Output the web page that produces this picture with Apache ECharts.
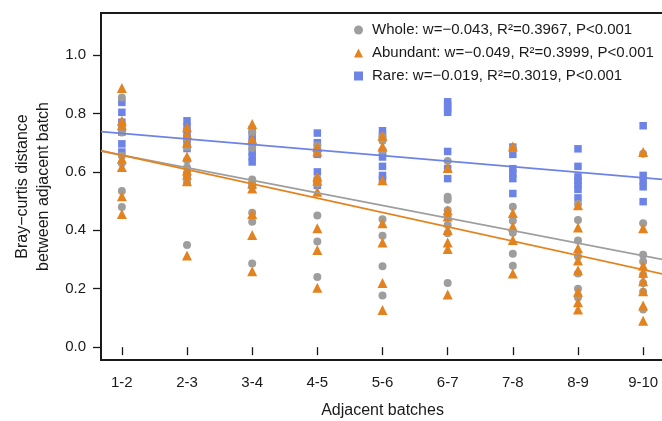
<!DOCTYPE html>
<html>
<head>
<meta charset="utf-8">
<script src="https://cdn.jsdelivr.net/npm/echarts@6/dist/echarts.min.js"></script>
<style>
  html, body { margin: 0; padding: 0; background: #fff; }
  #chart { width: 662px; height: 421px; }
</style>
</head>
<body>
<div id="chart"></div>
<script>
// Adjacent batch pairs along the x axis
const categories = ['1-2', '2-3', '3-4', '4-5', '5-6', '6-7', '7-8', '8-9', '9-10'];

// Bray-Curtis distances per batch pair, one inner list per category
const wholeValues = [
  [0.855, 0.76, 0.735, 0.655, 0.63, 0.535, 0.48],
  [0.715, 0.685, 0.64, 0.615, 0.595, 0.565, 0.35],
  [0.736, 0.682, 0.574, 0.56, 0.46, 0.429, 0.286],
  [0.69, 0.675, 0.574, 0.56, 0.451, 0.362, 0.24],
  [0.72, 0.707, 0.673, 0.438, 0.381, 0.277, 0.177],
  [0.637, 0.515, 0.505, 0.469, 0.447, 0.418, 0.39, 0.22],
  [0.681, 0.481, 0.433, 0.392, 0.32, 0.279],
  [0.49, 0.435, 0.365, 0.31, 0.252, 0.2, 0.17],
  [0.662, 0.424, 0.316, 0.293, 0.248, 0.22, 0.19, 0.129]
];
const abundantValues = [
  [0.887, 0.775, 0.76, 0.645, 0.617, 0.517, 0.456],
  [0.753, 0.73, 0.70, 0.653, 0.605, 0.59, 0.568, 0.314],
  [0.764, 0.713, 0.56, 0.543, 0.456, 0.384, 0.26],
  [0.685, 0.67, 0.583, 0.57, 0.532, 0.407, 0.333, 0.203],
  [0.724, 0.687, 0.571, 0.424, 0.358, 0.22, 0.127],
  [0.613, 0.469, 0.447, 0.401, 0.358, 0.336, 0.18],
  [0.687, 0.459, 0.413, 0.367, 0.252],
  [0.486, 0.41, 0.339, 0.297, 0.263, 0.19, 0.154, 0.129],
  [0.668, 0.407, 0.279, 0.255, 0.226, 0.191, 0.143, 0.09]
];
const rareValues = [
  [0.838, 0.804, 0.77, 0.75, 0.736, 0.696, 0.668],
  [0.775, 0.755, 0.735, 0.715, 0.695, 0.68, 0.59],
  [0.745, 0.72, 0.70, 0.67, 0.651, 0.634, 0.554],
  [0.733, 0.70, 0.673, 0.66, 0.60, 0.571, 0.554],
  [0.741, 0.72, 0.668, 0.651, 0.619, 0.588, 0.575],
  [0.84, 0.828, 0.816, 0.804, 0.67, 0.611, 0.577],
  [0.685, 0.66, 0.611, 0.594, 0.577, 0.526],
  [0.679, 0.619, 0.583, 0.57, 0.555, 0.54, 0.511],
  [0.758, 0.588, 0.57, 0.549, 0.498]
];

// Linear fits: slope w per batch step, intercept at x = 0
const fitSlopes = [-0.043, -0.049, -0.019];
const fitIntercepts = [0.700, 0.706, 0.751];

const legendLabels = [
  'Whole: w=\u22120.043, R\u00b2=0.3967, P<0.001',
  'Abundant: w=\u22120.049, R\u00b2=0.3999, P<0.001',
  'Rare: w=\u22120.019, R\u00b2=0.3019, P<0.001'
];
const yTicks = [0, 0.2, 0.4, 0.6, 0.8, 1.0];

const colors = ['#9e9e9e', '#e3831f', '#6e83e6'];
const symbols = ['circle', 'triangle', 'rect'];
const symbolSizes = [8, 10, 7.5];
const xMin = 0.68, xMax = 9.32;
const fontFamily = '"Liberation Sans", Arial, Helvetica, sans-serif';

function toPoints(cols) {
  const pts = [];
  cols.forEach((vals, i) => vals.forEach(v => pts.push([i + 1, v])));
  return pts;
}

const groups = [wholeValues, abundantValues, rareValues];
const drawOrder = [2, 0, 1];

const scatterSeries = drawOrder.map((g, k) => ({
  name: legendLabels[g],
  type: 'scatter',
  data: toPoints(groups[g]),
  symbol: symbols[g],
  symbolSize: symbolSizes[g],
  itemStyle: { color: colors[g], opacity: 1 },
  z: 2 + k,
  emphasis: { disabled: true }
}));

const lineSeries = [2, 0, 1].map(g => ({
  type: 'line',
  data: [xMin, xMax].map(x => [x, fitIntercepts[g] + fitSlopes[g] * x]),
  symbol: 'none',
  lineStyle: { color: colors[g], width: 1.8 },
  z: 6,
  silent: true
}));

const chart = echarts.init(document.getElementById('chart'), null, { renderer: 'canvas' });
chart.setOption({
  animation: false,
  backgroundColor: '#ffffff',
  textStyle: { fontFamily: fontFamily },
  grid: {
    left: 101, top: 13, bottom: 61, right: -2,
    outerBoundsMode: 'none',
    containLabel: false,
    show: true, borderColor: '#1a1a1a', borderWidth: 2, backgroundColor: 'transparent'
  },
  legend: {
    orient: 'vertical',
    left: 349, top: 17,
    itemWidth: 9, itemHeight: 9, itemGap: 7,
    data: legendLabels.map((n, i) => ({ name: n, icon: symbols[i], itemStyle: { color: colors[i] } })),
    textStyle: { fontSize: 15, color: '#1a1a1a', fontFamily: fontFamily, lineHeight: 16, padding: [0, 0, 0, 4] },
    selectedMode: false
  },
  xAxis: {
    type: 'value',
    min: xMin, max: xMax,
    name: 'Adjacent batches',
    nameLocation: 'middle',
    nameGap: 43,
    nameTextStyle: { fontSize: 16, color: '#1a1a1a', fontFamily: fontFamily },
    axisLine: { show: false },
    axisTick: { show: true, length: 8, customValues: categories.map((c, i) => i + 1), lineStyle: { color: '#1a1a1a', width: 1.3 } },
    axisLabel: {
      customValues: categories.map((c, i) => i + 1),
      formatter: v => categories[Math.round(v) - 1],
      fontSize: 15, color: '#1a1a1a', margin: 15, fontFamily: fontFamily
    },
    splitLine: { show: false }
  },
  yAxis: {
    type: 'value',
    min: -0.044, max: 1.144,
    name: 'Bray\u2212curtis distance\nbetween adjacent batch',
    nameLocation: 'middle',
    nameRotate: 90,
    nameGap: 47,
    nameTextStyle: { fontSize: 16, color: '#1a1a1a', lineHeight: 21, fontFamily: fontFamily, align: 'center' },
    axisLine: { show: false },
    axisTick: { show: true, length: 8, customValues: yTicks, lineStyle: { color: '#1a1a1a', width: 1.3 } },
    axisLabel: {
      customValues: yTicks,
      formatter: v => v.toFixed(1),
      fontSize: 15, color: '#1a1a1a', margin: 15, fontFamily: fontFamily
    },
    splitLine: { show: false }
  },
  series: scatterSeries.concat(lineSeries)
});
</script>
</body>
</html>
